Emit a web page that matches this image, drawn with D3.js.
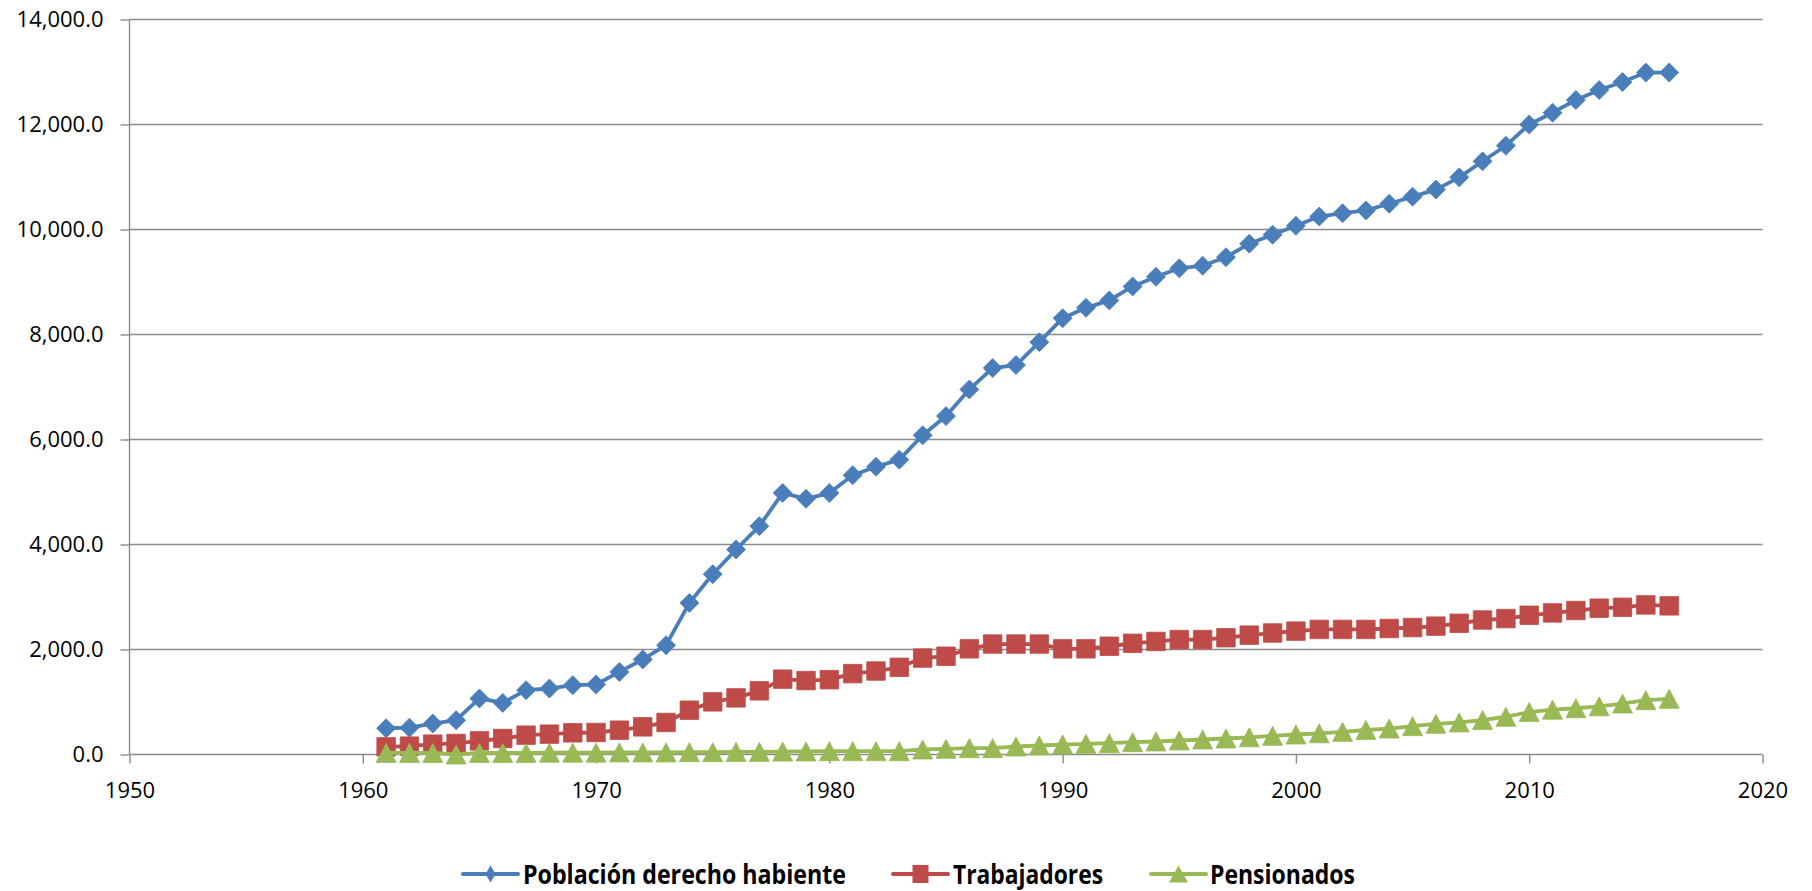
<!DOCTYPE html>
<html>
<head>
<meta charset="utf-8">
<script src="https://cdn.jsdelivr.net/npm/d3@7"></script>
<style>
  html, body { margin: 0; padding: 0; background: #ffffff; }
  svg { display: block; }
</style>
</head>
<body>
<svg id="chart" width="1812" height="891"></svg>
<script>
// ---------------- DATA ----------------
const years = [1961,1962,1963,1964,1965,1966,1967,1968,1969,1970,
               1971,1972,1973,1974,1975,1976,1977,1978,1979,1980,
               1981,1982,1983,1984,1985,1986,1987,1988,1989,1990,
               1991,1992,1993,1994,1995,1996,1997,1998,1999,2000,
               2001,2002,2003,2004,2005,2006,2007,2008,2009,2010,
               2011,2012,2013,2014,2015,2016];

const poblacion = [500,510,590,653,1067,983,1225,1257,1320,1333,
                   1573,1810,2082,2888,3434,3905,4349,4983,4870,4980,
                   5320,5482,5616,6080,6446,6953,7361,7417,7854,8311,
                   8508,8649,8916,9099,9261,9310,9472,9730,9900,10070,
                   10247,10310,10364,10490,10625,10760,10993,11299,11596,12000,
                   12225,12467,12656,12809,12989,12989];

const trabajadores = [146,159,197,210,260,305,368,387,413,419,
                      463,527,610,844,1003,1079,1213,1435,1408,1425,
                      1541,1590,1661,1837,1872,2013,2104,2104,2104,2013,
                      2013,2062,2118,2153,2189,2189,2224,2273,2314,2350,
                      2382,2382,2382,2400,2418,2445,2499,2562,2589,2652,
                      2697,2742,2787,2804,2849,2831];

const pensionados = [30,30,30,0,30,30,30,35,35,35,
                     40,40,40,45,45,50,50,55,58,63,
                     63,63,63,95,108,121,121,152,171,190,
                     203,216,235,248,267,286,305,328,355,381,
                     404,431,467,494,539,584,611,656,719,809,
                     854,881,917,971,1034,1061];

const seriesNames = ["Población derecho habiente", "Trabajadores", "Pensionados"];
const xTicks = [1950,1960,1970,1980,1990,2000,2010,2020];
const yTicks = [0,2000,4000,6000,8000,10000,12000,14000];

// ---------------- LAYOUT ----------------
const svg = d3.select("#chart");
const plotLeft = 129.5, plotRight = 1762.5, plotTop = 19.5, plotBottom = 754.5;
const gridColor = "#8c8c8c";
const font = "'Open Sans', 'Liberation Sans', sans-serif";

const x = d3.scaleLinear().domain([1950, 2020]).range([plotLeft, plotRight]);
const y = d3.scaleLinear().domain([0, 14000]).range([plotBottom, plotTop]);

// gridlines
svg.append("g").selectAll("line").data(yTicks.filter(d => d > 0)).join("line")
  .attr("x1", plotLeft).attr("x2", plotRight)
  .attr("y1", d => y(d)).attr("y2", d => y(d))
  .attr("stroke", gridColor).attr("stroke-width", 1.4);

// Y axis
const yAxis = d3.axisLeft(y).tickValues(yTicks).tickFormat(d3.format(",.1f"))
  .tickSize(9).tickPadding(17);
const gy = svg.append("g").attr("transform", `translate(${plotLeft},0)`).call(yAxis);
gy.select(".domain").attr("stroke", gridColor).attr("stroke-width", 1.4)
  .attr("d", `M0,${plotTop}V${plotBottom}`);
gy.selectAll(".tick line").attr("stroke", gridColor).attr("stroke-width", 1.4);
gy.selectAll(".tick text").attr("font-family", font).attr("font-size", 22)
  .attr("fill", "#000");

// X axis
const xAxis = d3.axisBottom(x).tickValues(xTicks).tickFormat(d3.format("d"))
  .tickSize(9).tickPadding(19);
const gx = svg.append("g").attr("transform", `translate(0,${plotBottom})`).call(xAxis);
gx.select(".domain").attr("stroke", gridColor).attr("stroke-width", 1.4)
  .attr("d", `M${plotLeft},0H${plotRight}`);
gx.selectAll(".tick line").attr("stroke", gridColor).attr("stroke-width", 1.4);
gx.selectAll(".tick text").attr("font-family", font).attr("font-size", 22)
  .attr("fill", "#000");

// ---------------- SERIES ----------------
const markerPaths = {
  diamond: (w, h) => `M0,${-h/2}L${w/2},0L0,${h/2}L${-w/2},0Z`,
  square:  (w, h) => `M${-w/2},${-h/2}H${w/2}V${h/2}H${-w/2}Z`,
  triangle:(w, h) => `M0,${-h/2}L${w/2},${h/2}H${-w/2}Z`
};

const series = [
  { name: seriesNames[0], values: poblacion,   color: "#4a7ebb", shape: "diamond",  w: 19, h: 19 },
  { name: seriesNames[1], values: trabajadores, color: "#be4b48", shape: "square",   w: 18.5, h: 18.5 },
  { name: seriesNames[2], values: pensionados,  color: "#98b954", shape: "triangle", w: 20, h: 19 }
];

const line = d3.line().x(d => x(d[0])).y(d => y(d[1]));

series.forEach(s => {
  const pts = years.map((yr, i) => [yr, s.values[i]]);
  const g = svg.append("g");
  g.append("path").datum(pts).attr("d", line)
    .attr("fill", "none").attr("stroke", s.color).attr("stroke-width", 3.8)
    .attr("stroke-linejoin", "round").attr("stroke-linecap", "round");
  g.selectAll("path.m").data(pts).join("path").attr("class", "m")
    .attr("transform", d => `translate(${x(d[0])},${y(d[1])})`)
    .attr("d", markerPaths[s.shape](s.w, s.h))
    .attr("fill", s.color).attr("stroke", s.color).attr("stroke-width", 0.8)
    .attr("stroke-linejoin", "round");
});

// ---------------- LEGEND ----------------
const legendY = 874;
const legendItems = [
  { s: series[0], x0: 463, x1: 518, tx: 523, tw: 323, mw: 10, mh: 17 },
  { s: series[1], x0: 893, x1: 948, tx: 953, tw: 150, mw: 16, mh: 18 },
  { s: series[2], x0: 1151, x1: 1206, tx: 1210, tw: 145, mw: 19, mh: 17 }
];
const lg = svg.append("g");
legendItems.forEach(it => {
  lg.append("line").attr("x1", it.x0).attr("x2", it.x1)
    .attr("y1", legendY).attr("y2", legendY)
    .attr("stroke", it.s.color).attr("stroke-width", 4).attr("stroke-linecap", "round");
  lg.append("path")
    .attr("transform", `translate(${(it.x0 + it.x1) / 2},${legendY})`)
    .attr("d", markerPaths[it.s.shape](it.mw, it.mh))
    .attr("fill", it.s.color);
  lg.append("text").attr("x", it.tx).attr("y", legendY + 10)
    .attr("font-family", font).attr("font-size", 26).attr("font-weight", "bold")
    .attr("fill", "#000")
    .attr("textLength", it.tw).attr("lengthAdjust", "spacingAndGlyphs")
    .text(it.s.name);
});
</script>
</body>
</html>
